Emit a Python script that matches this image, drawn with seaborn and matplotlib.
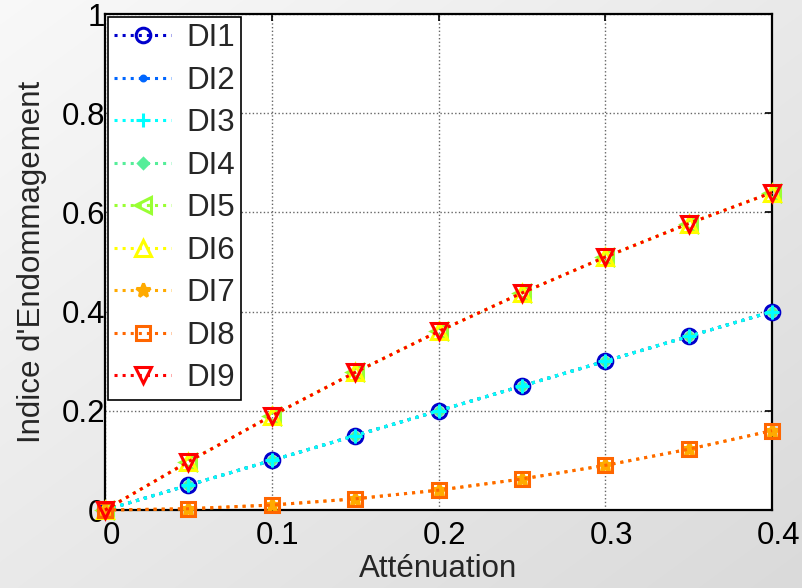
import numpy as np
import pandas as pd
import matplotlib
matplotlib.use("Agg")
import matplotlib.pyplot as plt
import matplotlib.transforms as mtrans
import seaborn as sns

# ---- data ----
attenuation = [0.0, 0.05, 0.10, 0.15, 0.20, 0.25, 0.30, 0.35, 0.40]
di_linear = [0.0, 0.05, 0.10, 0.15, 0.20, 0.25, 0.30, 0.35, 0.40]
di_upper = [0.0, 0.0975, 0.19, 0.2775, 0.36, 0.4375, 0.51, 0.5775, 0.64]
di_lower = [0.0, 0.0025, 0.01, 0.0225, 0.04, 0.0625, 0.09, 0.1225, 0.16]
series_names = ["DI1", "DI2", "DI3", "DI4", "DI5", "DI6", "DI7", "DI8", "DI9"]
series_values = [di_linear, di_linear, di_linear, di_linear,
                 di_upper, di_upper, di_lower, di_lower, di_upper]
x_ticks = [0, 0.1, 0.2, 0.3, 0.4]
x_tick_labels = ["0", "0.1", "0.2", "0.3", "0.4"]
y_ticks = [0, 0.2, 0.4, 0.6, 0.8, 1.0]
y_tick_labels = ["0", "0.2", "0.4", "0.6", "0.8", "1"]

colors = ["#0000cc", "#0066ff", "#00ffff", "#55ee99", "#99ff33",
          "#ffff00", "#ffaa00", "#ff6600", "#ff0000"]
markers = ["o", ".", "+", "D", "<", "^", "*", "s", "v"]
msizes = [10.5, 7, 10, 5, 11, 11, 10, 10, 12]
zorders = [4, 5, 7, 6, 8, 9, 10, 11, 12]

sns.set_style("white")
plt.rcParams["font.family"] = ["Liberation Sans", "DejaVu Sans"]

FS = 22.5

fig = plt.figure(figsize=(8.03, 5.88), dpi=100)
fig.patch.set_alpha(0)

# gradient background
bg = fig.add_axes([0, 0, 1, 1], zorder=-10)
W, H = 803, 588
xx, yy = np.meshgrid(np.linspace(0, 1, W), np.linspace(0, 1, H))
t = (xx + yy) / 2.0
grad = 0.975 - 0.12 * t
bg.imshow(np.dstack([grad, grad, grad]), aspect="auto", extent=[0, 1, 0, 1], origin="upper")
bg.axis("off")

ax = fig.add_axes([105 / W, 1 - 510 / H, (772 - 105) / W, (510 - 14) / H])
ax.set_facecolor("white")

rows = []
for name, vals in zip(series_names, series_values):
    for xv, yv in zip(attenuation, vals):
        rows.append({"Atténuation": xv, "DI": yv, "serie": name})
df = pd.DataFrame(rows)

for i, name in enumerate(series_names):
    sub = df[df["serie"] == name]
    filled = markers[i] in (".", "D", "*")
    sns.lineplot(data=sub, x="Atténuation", y="DI", ax=ax, color=colors[i],
                 linestyle=":", linewidth=2.2, marker=markers[i],
                 markersize=msizes[i], markeredgewidth=2.2,
                 markerfacecolor=colors[i] if filled else "none",
                 markeredgecolor=colors[i], label=name, zorder=zorders[i],
                 clip_on=False)

ax.set_xlim(0, 0.4)
ax.set_ylim(0, 1)
ax.set_xticks(x_ticks)
ax.set_xticklabels(x_tick_labels)
ax.set_yticks(y_ticks)
ax.set_yticklabels(y_tick_labels)
ax.grid(True, linestyle=":", color="#666666", linewidth=1.0)
ax.set_axisbelow(True)
for s in ax.spines.values():
    s.set_color("black")
    s.set_linewidth(1.6)
ax.tick_params(direction="in", length=5, width=1.2, top=True, right=True,
               labelsize=FS, colors="black")
ax.tick_params(axis="y", pad=0)
ax.tick_params(axis="x", pad=8)
offset = mtrans.ScaledTranslation(6 / 100, 0, fig.dpi_scale_trans)
for lab in ax.get_xticklabels():
    lab.set_transform(lab.get_transform() + offset)

ax.set_xlabel("Atténuation", fontsize=FS, labelpad=2)
ax.set_ylabel("Indice d'Endommagement", fontsize=FS, labelpad=10)

handles, labels = ax.get_legend_handles_labels()
leg = ax.legend(handles, labels, loc="upper left", bbox_to_anchor=(0.0, 1.0),
                fontsize=FS, frameon=True, fancybox=False, framealpha=1,
                edgecolor="black", borderaxespad=0.1, labelspacing=0.4,
                handlelength=1.8, handletextpad=0.5, borderpad=0.2)
leg.get_frame().set_linewidth(1.2)
leg.set_zorder(20)

fig.savefig("out.png", dpi=100)
